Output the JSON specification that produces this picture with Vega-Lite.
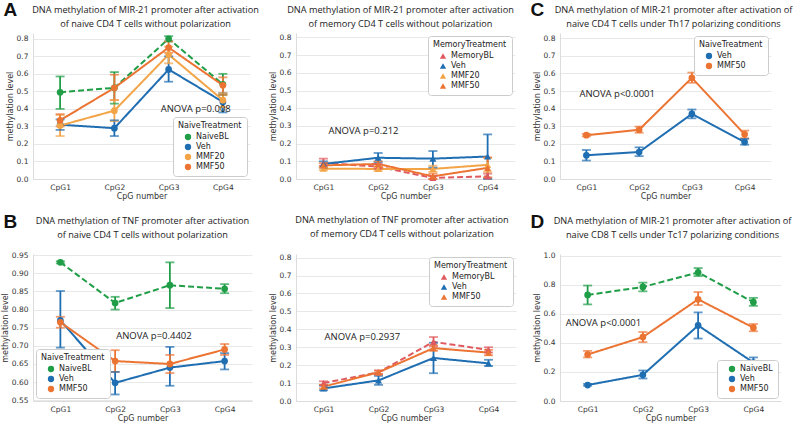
{
  "$schema": "https://vega.github.io/schema/vega-lite/v6.json",
  "padding": {"left": 1, "top": 0, "right": 0, "bottom": 0},
  "background": "white",
  "config": {
    "view": {"stroke": null},
    "font": "DejaVu Sans",
    "axis": {"grid": true, "gridColor": "#e8e8e8", "domainColor": "#dcdcdc", "ticks": false, "labelFont": "DejaVu Sans", "labelFontSize": 7.5, "labelColor": "#333333", "titleFont": "DejaVu Sans", "titleFontSize": 8, "titleFontWeight": "normal", "titleColor": "#333333", "labelPadding": 5, "labelOverlap": false},
    "axisX": {"grid": false, "labelAngle": 0, "titlePadding": 2, "labelPadding": 4},
    "axisY": {"titlePadding": 2},
    "title": {"font": "Open Sans", "fontSize": 9.2, "fontWeight": "normal", "color": "#222222", "anchor": "middle", "lineHeight": 14},
    "legend": {"fillColor": "white", "strokeColor": "#cccccc", "padding": 5, "cornerRadius": 3, "titleFont": "DejaVu Sans", "titleFontSize": 8, "titleFontWeight": "normal", "titleColor": "#222222", "labelFont": "DejaVu Sans", "labelFontSize": 8, "labelColor": "#222222", "symbolSize": 40, "rowPadding": 2, "offset": 3, "titlePadding": 3, "symbolOffset": 6}
  },
  "datasets": {
    "A": [
      {"cpg": "CpG1", "g": "NaiveBL", "m": 0.495, "lo": 0.40, "hi": 0.585},
      {"cpg": "CpG2", "g": "NaiveBL", "m": 0.52, "lo": 0.43, "hi": 0.61},
      {"cpg": "CpG3", "g": "NaiveBL", "m": 0.80, "lo": 0.785, "hi": 0.815},
      {"cpg": "CpG4", "g": "NaiveBL", "m": 0.54, "lo": 0.48, "hi": 0.60},
      {"cpg": "CpG1", "g": "Veh", "m": 0.31, "lo": 0.28, "hi": 0.34},
      {"cpg": "CpG2", "g": "Veh", "m": 0.29, "lo": 0.245, "hi": 0.335},
      {"cpg": "CpG3", "g": "Veh", "m": 0.625, "lo": 0.555, "hi": 0.70},
      {"cpg": "CpG4", "g": "Veh", "m": 0.44, "lo": 0.38, "hi": 0.49},
      {"cpg": "CpG1", "g": "MMF20", "m": 0.305, "lo": 0.245, "hi": 0.365},
      {"cpg": "CpG2", "g": "MMF20", "m": 0.39, "lo": 0.33, "hi": 0.45},
      {"cpg": "CpG3", "g": "MMF20", "m": 0.71, "lo": 0.66, "hi": 0.755},
      {"cpg": "CpG4", "g": "MMF20", "m": 0.45, "lo": 0.41, "hi": 0.49},
      {"cpg": "CpG1", "g": "MMF50", "m": 0.335, "lo": 0.30, "hi": 0.37},
      {"cpg": "CpG2", "g": "MMF50", "m": 0.52, "lo": 0.45, "hi": 0.595},
      {"cpg": "CpG3", "g": "MMF50", "m": 0.75, "lo": 0.72, "hi": 0.785},
      {"cpg": "CpG4", "g": "MMF50", "m": 0.535, "lo": 0.48, "hi": 0.58}
    ],
    "M1": [
      {"cpg": "CpG1", "g": "MemoryBL", "m": 0.09, "lo": 0.075, "hi": 0.115},
      {"cpg": "CpG2", "g": "MemoryBL", "m": 0.07, "lo": 0.06, "hi": 0.085},
      {"cpg": "CpG3", "g": "MemoryBL", "m": 0.006, "lo": 0.0, "hi": 0.015},
      {"cpg": "CpG4", "g": "MemoryBL", "m": 0.015, "lo": 0.005, "hi": 0.03},
      {"cpg": "CpG1", "g": "Veh", "m": 0.085, "lo": 0.065, "hi": 0.10},
      {"cpg": "CpG2", "g": "Veh", "m": 0.12, "lo": 0.095, "hi": 0.147},
      {"cpg": "CpG3", "g": "Veh", "m": 0.115, "lo": 0.065, "hi": 0.158},
      {"cpg": "CpG4", "g": "Veh", "m": 0.127, "lo": 0.0, "hi": 0.252},
      {"cpg": "CpG1", "g": "MMF20", "m": 0.058, "lo": 0.05, "hi": 0.068},
      {"cpg": "CpG2", "g": "MMF20", "m": 0.057, "lo": 0.045, "hi": 0.07},
      {"cpg": "CpG3", "g": "MMF20", "m": 0.057, "lo": 0.04, "hi": 0.075},
      {"cpg": "CpG4", "g": "MMF20", "m": 0.08, "lo": 0.04, "hi": 0.12},
      {"cpg": "CpG1", "g": "MMF50", "m": 0.077, "lo": 0.065, "hi": 0.09},
      {"cpg": "CpG2", "g": "MMF50", "m": 0.085, "lo": 0.07, "hi": 0.10},
      {"cpg": "CpG3", "g": "MMF50", "m": 0.015, "lo": 0.0, "hi": 0.03},
      {"cpg": "CpG4", "g": "MMF50", "m": 0.063, "lo": 0.01, "hi": 0.122}
    ],
    "C": [
      {"cpg": "CpG1", "g": "Veh", "m": 0.135, "lo": 0.105, "hi": 0.165},
      {"cpg": "CpG2", "g": "Veh", "m": 0.153, "lo": 0.13, "hi": 0.18},
      {"cpg": "CpG3", "g": "Veh", "m": 0.37, "lo": 0.345, "hi": 0.395},
      {"cpg": "CpG4", "g": "Veh", "m": 0.21, "lo": 0.195, "hi": 0.228},
      {"cpg": "CpG1", "g": "MMF50", "m": 0.249, "lo": 0.242, "hi": 0.256},
      {"cpg": "CpG2", "g": "MMF50", "m": 0.28, "lo": 0.263, "hi": 0.298},
      {"cpg": "CpG3", "g": "MMF50", "m": 0.575, "lo": 0.547, "hi": 0.605},
      {"cpg": "CpG4", "g": "MMF50", "m": 0.254, "lo": 0.232, "hi": 0.275}
    ],
    "B": [
      {"cpg": "CpG1", "g": "NaiveBL", "m": 0.93, "lo": 0.927, "hi": 0.933},
      {"cpg": "CpG2", "g": "NaiveBL", "m": 0.818, "lo": 0.80, "hi": 0.835},
      {"cpg": "CpG3", "g": "NaiveBL", "m": 0.867, "lo": 0.804, "hi": 0.93},
      {"cpg": "CpG4", "g": "NaiveBL", "m": 0.857, "lo": 0.845, "hi": 0.87},
      {"cpg": "CpG1", "g": "Veh", "m": 0.77, "lo": 0.695, "hi": 0.851},
      {"cpg": "CpG2", "g": "Veh", "m": 0.598, "lo": 0.566, "hi": 0.628},
      {"cpg": "CpG3", "g": "Veh", "m": 0.64, "lo": 0.59, "hi": 0.697},
      {"cpg": "CpG4", "g": "Veh", "m": 0.658, "lo": 0.635, "hi": 0.68},
      {"cpg": "CpG1", "g": "MMF50", "m": 0.765, "lo": 0.75, "hi": 0.78},
      {"cpg": "CpG2", "g": "MMF50", "m": 0.658, "lo": 0.628, "hi": 0.688},
      {"cpg": "CpG3", "g": "MMF50", "m": 0.65, "lo": 0.625, "hi": 0.675},
      {"cpg": "CpG4", "g": "MMF50", "m": 0.69, "lo": 0.675, "hi": 0.705}
    ],
    "M2": [
      {"cpg": "CpG1", "g": "MemoryBL", "m": 0.10, "lo": 0.09, "hi": 0.11},
      {"cpg": "CpG2", "g": "MemoryBL", "m": 0.16, "lo": 0.15, "hi": 0.17},
      {"cpg": "CpG3", "g": "MemoryBL", "m": 0.33, "lo": 0.305, "hi": 0.357},
      {"cpg": "CpG4", "g": "MemoryBL", "m": 0.285, "lo": 0.27, "hi": 0.30},
      {"cpg": "CpG1", "g": "Veh", "m": 0.07, "lo": 0.06, "hi": 0.085},
      {"cpg": "CpG2", "g": "Veh", "m": 0.115, "lo": 0.09, "hi": 0.14},
      {"cpg": "CpG3", "g": "Veh", "m": 0.24, "lo": 0.155, "hi": 0.325},
      {"cpg": "CpG4", "g": "Veh", "m": 0.21, "lo": 0.195, "hi": 0.23},
      {"cpg": "CpG1", "g": "MMF50", "m": 0.08, "lo": 0.07, "hi": 0.09},
      {"cpg": "CpG2", "g": "MMF50", "m": 0.16, "lo": 0.15, "hi": 0.17},
      {"cpg": "CpG3", "g": "MMF50", "m": 0.295, "lo": 0.28, "hi": 0.31},
      {"cpg": "CpG4", "g": "MMF50", "m": 0.27, "lo": 0.255, "hi": 0.285}
    ],
    "D": [
      {"cpg": "CpG1", "g": "NaiveBL", "m": 0.73, "lo": 0.665, "hi": 0.795},
      {"cpg": "CpG2", "g": "NaiveBL", "m": 0.785, "lo": 0.755, "hi": 0.815},
      {"cpg": "CpG3", "g": "NaiveBL", "m": 0.885, "lo": 0.86, "hi": 0.915},
      {"cpg": "CpG4", "g": "NaiveBL", "m": 0.68, "lo": 0.655, "hi": 0.71},
      {"cpg": "CpG1", "g": "Veh", "m": 0.11, "lo": 0.105, "hi": 0.118},
      {"cpg": "CpG2", "g": "Veh", "m": 0.18, "lo": 0.155, "hi": 0.21},
      {"cpg": "CpG3", "g": "Veh", "m": 0.52, "lo": 0.43, "hi": 0.61},
      {"cpg": "CpG4", "g": "Veh", "m": 0.265, "lo": 0.235, "hi": 0.30},
      {"cpg": "CpG1", "g": "MMF50", "m": 0.32, "lo": 0.30, "hi": 0.345},
      {"cpg": "CpG2", "g": "MMF50", "m": 0.44, "lo": 0.405, "hi": 0.475},
      {"cpg": "CpG3", "g": "MMF50", "m": 0.70, "lo": 0.66, "hi": 0.75},
      {"cpg": "CpG4", "g": "MMF50", "m": 0.505, "lo": 0.48, "hi": 0.53}
    ]
  },
  "resolve": {"scale": {"x": "independent", "y": "independent", "color": "independent", "fill": "independent", "strokeDash": "independent"}, "legend": {"color": "independent", "fill": "independent", "strokeDash": "independent"}},
  "bounds": "flush",
  "columns": 3,
  "spacing": {"row": 75, "column": 44},
  "concat": [
    {
      "width": 217, "height": 146,
      "title": {"text": ["DNA methylation of MIR-21 promoter after activation", "of naive CD4 T cells without polarization"], "offset": 4, "dy": 33, "dx": 4},
      "data": {"name": "A"},
      "resolve": {"axis": {"x": "independent"}},
      "layer": [
        {
          "encoding": {"x": {"field": "cpg", "type": "ordinal", "scale": {"type": "point", "padding": 0.5, "domain": ["CpG1", "CpG2", "CpG3", "CpG4"]}, "title": "CpG number"}},
          "layer": [
            {"mark": {"type": "line", "strokeWidth": 2}, "encoding": {"y": {"field": "m", "type": "quantitative", "scale": {"domain": [0, 0.833], "nice": false, "zero": false}, "axis": {"values": [0, 0.1, 0.2, 0.3, 0.4, 0.5, 0.6, 0.7, 0.8], "tickCount": 20, "format": ".1f", "labelOverlap": false}, "title": "methylation level"}, "color": {"field": "g", "type": "nominal", "sort": ["NaiveBL", "Veh", "MMF20", "MMF50"], "scale": {"range": ["#1f9e47", "#1f6eb2", "#f3a447", "#ec7433"]}, "legend": null}, "strokeDash": {"field": "g", "type": "nominal", "sort": ["NaiveBL", "Veh", "MMF20", "MMF50"], "scale": {"range": [[6, 3], [1, 0], [1, 0], [1, 0]]}, "legend": null}}},
            {"mark": {"type": "rule", "strokeWidth": 1.8}, "encoding": {"y": {"field": "lo", "type": "quantitative", "scale": {"domain": [0, 0.833], "nice": false, "zero": false}, "title": "methylation level"}, "y2": {"field": "hi"}, "color": {"field": "g", "type": "nominal", "sort": ["NaiveBL", "Veh", "MMF20", "MMF50"], "legend": null}}},
            {"mark": {"type": "tick", "thickness": 1.8, "size": 9}, "encoding": {"y": {"field": "lo", "type": "quantitative", "scale": {"domain": [0, 0.833], "nice": false, "zero": false}, "title": "methylation level"}, "color": {"field": "g", "type": "nominal", "sort": ["NaiveBL", "Veh", "MMF20", "MMF50"], "legend": null}}},
            {"mark": {"type": "tick", "thickness": 1.8, "size": 9}, "encoding": {"y": {"field": "hi", "type": "quantitative", "scale": {"domain": [0, 0.833], "nice": false, "zero": false}, "title": "methylation level"}, "color": {"field": "g", "type": "nominal", "sort": ["NaiveBL", "Veh", "MMF20", "MMF50"], "legend": null}}},
            {"mark": {"type": "point", "filled": true, "size": 45, "opacity": 1, "shape": "circle"}, "encoding": {"y": {"field": "m", "type": "quantitative", "scale": {"domain": [0, 0.833], "nice": false, "zero": false}, "title": "methylation level"}, "fill": {"field": "g", "type": "nominal", "scale": {"domain": ["NaiveBL", "Veh", "MMF20", "MMF50"], "range": ["#1f9e47", "#1f6eb2", "#f3a447", "#ec7433"]}, "legend": {"orient": "bottom-right", "title": "NaiveTreatment", "symbolType": "circle"}}}},
            {"data": {"values": [{"cpg": "CpG3", "m": 0.40, "t": "ANOVA p=0.008"}]}, "mark": {"type": "text", "align": "left", "dx": -8, "fontSize": 9.5, "font": "Open Sans", "color": "#222222"}, "encoding": {"y": {"field": "m", "type": "quantitative", "scale": {"domain": [0, 0.833], "nice": false, "zero": false}, "title": "methylation level"}, "text": {"field": "t"}}}
          ]
        },
        {"data": {"values": [{"cpg": "CpG1"}]}, "mark": {"type": "point", "opacity": 0}, "encoding": {"x": {"field": "cpg", "type": "ordinal", "scale": {"type": "point", "padding": 0.5, "domain": ["CpG1", "CpG2", "CpG3", "CpG4"]}, "axis": {"orient": "top", "labels": false, "domain": false, "grid": false, "ticks": false, "title": "A", "titleX": -30, "titleY": -33, "titleAlign": "left", "titleBaseline": "top", "titleAngle": 0, "titleFont": "Liberation Sans", "titleFontSize": 19, "titleFontWeight": "bold", "titleColor": "#111111"}}}}
      ]
    },
    {
      "width": 219, "height": 146,
      "title": {"text": ["DNA methylation of MIR-21 promoter after activation", "of memory CD4 T cells without polarization"], "offset": 4, "dx": -5},
      "data": {"name": "M1"},
      "encoding": {"x": {"field": "cpg", "type": "ordinal", "scale": {"type": "point", "padding": 0.5, "domain": ["CpG1", "CpG2", "CpG3", "CpG4"]}, "title": "CpG number"}},
      "layer": [
        {"mark": {"type": "line", "strokeWidth": 2}, "encoding": {"y": {"field": "m", "type": "quantitative", "scale": {"domain": [0, 0.825], "nice": false, "zero": false}, "axis": {"values": [0, 0.1, 0.2, 0.3, 0.4, 0.5, 0.6, 0.7, 0.8], "tickCount": 20, "format": ".1f", "labelOverlap": false}, "title": "methylation level"}, "color": {"field": "g", "type": "nominal", "sort": ["MemoryBL", "Veh", "MMF20", "MMF50"], "scale": {"range": ["#df5a5e", "#1f6eb2", "#f3a447", "#ec7433"]}, "legend": null}, "strokeDash": {"field": "g", "type": "nominal", "sort": ["MemoryBL", "Veh", "MMF20", "MMF50"], "scale": {"range": [[6, 3], [1, 0], [1, 0], [1, 0]]}, "legend": null}}},
        {"mark": {"type": "rule", "strokeWidth": 1.8}, "encoding": {"y": {"field": "lo", "type": "quantitative", "scale": {"domain": [0, 0.825], "nice": false, "zero": false}, "title": "methylation level"}, "y2": {"field": "hi"}, "color": {"field": "g", "type": "nominal", "sort": ["MemoryBL", "Veh", "MMF20", "MMF50"], "legend": null}}},
        {"mark": {"type": "tick", "thickness": 1.8, "size": 9}, "encoding": {"y": {"field": "lo", "type": "quantitative", "scale": {"domain": [0, 0.825], "nice": false, "zero": false}, "title": "methylation level"}, "color": {"field": "g", "type": "nominal", "sort": ["MemoryBL", "Veh", "MMF20", "MMF50"], "legend": null}}},
        {"mark": {"type": "tick", "thickness": 1.8, "size": 9}, "encoding": {"y": {"field": "hi", "type": "quantitative", "scale": {"domain": [0, 0.825], "nice": false, "zero": false}, "title": "methylation level"}, "color": {"field": "g", "type": "nominal", "sort": ["MemoryBL", "Veh", "MMF20", "MMF50"], "legend": null}}},
        {"mark": {"type": "point", "filled": true, "size": 50, "opacity": 1, "shape": "triangle-up"}, "encoding": {"y": {"field": "m", "type": "quantitative", "scale": {"domain": [0, 0.825], "nice": false, "zero": false}, "title": "methylation level"}, "fill": {"field": "g", "type": "nominal", "scale": {"domain": ["MemoryBL", "Veh", "MMF20", "MMF50"], "range": ["#df5a5e", "#1f6eb2", "#f3a447", "#ec7433"]}, "legend": {"orient": "top-right", "title": "MemoryTreatment", "symbolType": "triangle-up"}}}},
        {"data": {"values": [{"cpg": "CpG1", "m": 0.273, "t": "ANOVA p=0.212"}]}, "mark": {"type": "text", "align": "left", "dx": 5, "fontSize": 9.5, "font": "Open Sans", "color": "#222222"}, "encoding": {"y": {"field": "m", "type": "quantitative", "scale": {"domain": [0, 0.825], "nice": false, "zero": false}, "title": "methylation level"}, "text": {"field": "t"}}}
      ]
    },
    {
      "width": 211, "height": 146,
      "title": {"text": ["DNA methylation of MIR-21 promoter after activation of", "naive CD4 T cells under Th17 polarizing conditions"], "offset": 4, "dy": 33, "dx": 8},
      "data": {"name": "C"},
      "resolve": {"axis": {"x": "independent"}},
      "layer": [
        {
          "encoding": {"x": {"field": "cpg", "type": "ordinal", "scale": {"type": "point", "padding": 0.5, "domain": ["CpG1", "CpG2", "CpG3", "CpG4"]}, "title": "CpG number"}},
          "layer": [
            {"mark": {"type": "line", "strokeWidth": 2}, "encoding": {"y": {"field": "m", "type": "quantitative", "scale": {"domain": [0, 0.83], "nice": false, "zero": false}, "axis": {"values": [0, 0.1, 0.2, 0.3, 0.4, 0.5, 0.6, 0.7, 0.8], "tickCount": 20, "format": ".1f", "labelOverlap": false}, "title": "methylation level"}, "color": {"field": "g", "type": "nominal", "sort": ["Veh", "MMF50"], "scale": {"range": ["#1f6eb2", "#ec7433"]}, "legend": null}}},
            {"mark": {"type": "rule", "strokeWidth": 1.8}, "encoding": {"y": {"field": "lo", "type": "quantitative", "scale": {"domain": [0, 0.83], "nice": false, "zero": false}, "title": "methylation level"}, "y2": {"field": "hi"}, "color": {"field": "g", "type": "nominal", "sort": ["Veh", "MMF50"], "legend": null}}},
            {"mark": {"type": "tick", "thickness": 1.8, "size": 9}, "encoding": {"y": {"field": "lo", "type": "quantitative", "scale": {"domain": [0, 0.83], "nice": false, "zero": false}, "title": "methylation level"}, "color": {"field": "g", "type": "nominal", "sort": ["Veh", "MMF50"], "legend": null}}},
            {"mark": {"type": "tick", "thickness": 1.8, "size": 9}, "encoding": {"y": {"field": "hi", "type": "quantitative", "scale": {"domain": [0, 0.83], "nice": false, "zero": false}, "title": "methylation level"}, "color": {"field": "g", "type": "nominal", "sort": ["Veh", "MMF50"], "legend": null}}},
            {"mark": {"type": "point", "filled": true, "size": 45, "opacity": 1, "shape": "circle"}, "encoding": {"y": {"field": "m", "type": "quantitative", "scale": {"domain": [0, 0.83], "nice": false, "zero": false}, "title": "methylation level"}, "fill": {"field": "g", "type": "nominal", "scale": {"domain": ["Veh", "MMF50"], "range": ["#1f6eb2", "#ec7433"]}, "legend": {"orient": "top-right", "title": "NaiveTreatment", "symbolType": "circle"}}}},
            {"data": {"values": [{"cpg": "CpG1", "m": 0.486, "t": "ANOVA p<0.0001"}]}, "mark": {"type": "text", "align": "left", "dx": -7, "fontSize": 9.5, "font": "Open Sans", "color": "#222222"}, "encoding": {"y": {"field": "m", "type": "quantitative", "scale": {"domain": [0, 0.83], "nice": false, "zero": false}, "title": "methylation level"}, "text": {"field": "t"}}}
          ]
        },
        {"data": {"values": [{"cpg": "CpG1"}]}, "mark": {"type": "point", "opacity": 0}, "encoding": {"x": {"field": "cpg", "type": "ordinal", "scale": {"type": "point", "padding": 0.5, "domain": ["CpG1", "CpG2", "CpG3", "CpG4"]}, "axis": {"orient": "top", "labels": false, "domain": false, "grid": false, "ticks": false, "title": "C", "titleX": -30, "titleY": -33, "titleAlign": "left", "titleBaseline": "top", "titleAngle": 0, "titleFont": "Liberation Sans", "titleFontSize": 19, "titleFontWeight": "bold", "titleColor": "#111111"}}}}
      ]
    },
    {
      "width": 219, "height": 147,
      "title": {"text": ["DNA methylation of TNF promoter after activation", "of naive CD4 T cells without polarization"], "offset": 14, "dy": 42},
      "data": {"name": "B"},
      "resolve": {"axis": {"x": "independent"}},
      "layer": [
        {
          "encoding": {"x": {"field": "cpg", "type": "ordinal", "scale": {"type": "point", "padding": 0.5, "domain": ["CpG1", "CpG2", "CpG3", "CpG4"]}, "title": "CpG number"}},
          "layer": [
            {"mark": {"type": "line", "strokeWidth": 2}, "encoding": {"y": {"field": "m", "type": "quantitative", "scale": {"domain": [0.548, 0.953], "nice": false, "zero": false}, "axis": {"values": [0.55, 0.6, 0.65, 0.7, 0.75, 0.8, 0.85, 0.9, 0.95], "tickCount": 20, "format": ".2f", "labelOverlap": false}, "title": "methylation level"}, "color": {"field": "g", "type": "nominal", "sort": ["NaiveBL", "Veh", "MMF50"], "scale": {"range": ["#1f9e47", "#1f6eb2", "#ec7433"]}, "legend": null}, "strokeDash": {"field": "g", "type": "nominal", "sort": ["NaiveBL", "Veh", "MMF50"], "scale": {"range": [[6, 3], [1, 0], [1, 0]]}, "legend": null}}},
            {"mark": {"type": "rule", "strokeWidth": 1.8}, "encoding": {"y": {"field": "lo", "type": "quantitative", "scale": {"domain": [0.548, 0.953], "nice": false, "zero": false}, "title": "methylation level"}, "y2": {"field": "hi"}, "color": {"field": "g", "type": "nominal", "sort": ["NaiveBL", "Veh", "MMF50"], "legend": null}}},
            {"mark": {"type": "tick", "thickness": 1.8, "size": 9}, "encoding": {"y": {"field": "lo", "type": "quantitative", "scale": {"domain": [0.548, 0.953], "nice": false, "zero": false}, "title": "methylation level"}, "color": {"field": "g", "type": "nominal", "sort": ["NaiveBL", "Veh", "MMF50"], "legend": null}}},
            {"mark": {"type": "tick", "thickness": 1.8, "size": 9}, "encoding": {"y": {"field": "hi", "type": "quantitative", "scale": {"domain": [0.548, 0.953], "nice": false, "zero": false}, "title": "methylation level"}, "color": {"field": "g", "type": "nominal", "sort": ["NaiveBL", "Veh", "MMF50"], "legend": null}}},
            {"mark": {"type": "point", "filled": true, "size": 45, "opacity": 1, "shape": "circle"}, "encoding": {"y": {"field": "m", "type": "quantitative", "scale": {"domain": [0.548, 0.953], "nice": false, "zero": false}, "title": "methylation level"}, "fill": {"field": "g", "type": "nominal", "scale": {"domain": ["NaiveBL", "Veh", "MMF50"], "range": ["#1f9e47", "#1f6eb2", "#ec7433"]}, "legend": {"orient": "bottom-left", "title": "NaiveTreatment", "symbolType": "circle"}}}},
            {"data": {"values": [{"cpg": "CpG2", "m": 0.727, "t": "ANOVA p=0.4402"}]}, "mark": {"type": "text", "align": "left", "dx": 1, "fontSize": 9.5, "font": "Open Sans", "color": "#222222"}, "encoding": {"y": {"field": "m", "type": "quantitative", "scale": {"domain": [0.548, 0.953], "nice": false, "zero": false}, "title": "methylation level"}, "text": {"field": "t"}}}
          ]
        },
        {"data": {"values": [{"cpg": "CpG1"}]}, "mark": {"type": "point", "opacity": 0}, "encoding": {"x": {"field": "cpg", "type": "ordinal", "scale": {"type": "point", "padding": 0.5, "domain": ["CpG1", "CpG2", "CpG3", "CpG4"]}, "axis": {"orient": "top", "labels": false, "domain": false, "grid": false, "ticks": false, "title": "B", "titleX": -30, "titleY": -42, "titleAlign": "left", "titleBaseline": "top", "titleAngle": 0, "titleFont": "Liberation Sans", "titleFontSize": 19, "titleFontWeight": "bold", "titleColor": "#111111"}}}}
      ]
    },
    {
      "width": 220, "height": 147,
      "title": {"text": ["DNA methylation of TNF promoter after activation", "of memory CD4 T cells without polarization"], "offset": 14, "dx": -4},
      "data": {"name": "M2"},
      "encoding": {"x": {"field": "cpg", "type": "ordinal", "scale": {"type": "point", "padding": 0.5, "domain": ["CpG1", "CpG2", "CpG3", "CpG4"]}, "title": "CpG number"}},
      "layer": [
        {"mark": {"type": "line", "strokeWidth": 2}, "encoding": {"y": {"field": "m", "type": "quantitative", "scale": {"domain": [0, 0.82], "nice": false, "zero": false}, "axis": {"values": [0, 0.1, 0.2, 0.3, 0.4, 0.5, 0.6, 0.7, 0.8], "tickCount": 20, "format": ".1f", "labelOverlap": false}, "title": "methylation level"}, "color": {"field": "g", "type": "nominal", "sort": ["MemoryBL", "Veh", "MMF50"], "scale": {"range": ["#df5a5e", "#1f6eb2", "#ec7433"]}, "legend": null}, "strokeDash": {"field": "g", "type": "nominal", "sort": ["MemoryBL", "Veh", "MMF50"], "scale": {"range": [[6, 3], [1, 0], [1, 0]]}, "legend": null}}},
        {"mark": {"type": "rule", "strokeWidth": 1.8}, "encoding": {"y": {"field": "lo", "type": "quantitative", "scale": {"domain": [0, 0.82], "nice": false, "zero": false}, "title": "methylation level"}, "y2": {"field": "hi"}, "color": {"field": "g", "type": "nominal", "sort": ["MemoryBL", "Veh", "MMF50"], "legend": null}}},
        {"mark": {"type": "tick", "thickness": 1.8, "size": 9}, "encoding": {"y": {"field": "lo", "type": "quantitative", "scale": {"domain": [0, 0.82], "nice": false, "zero": false}, "title": "methylation level"}, "color": {"field": "g", "type": "nominal", "sort": ["MemoryBL", "Veh", "MMF50"], "legend": null}}},
        {"mark": {"type": "tick", "thickness": 1.8, "size": 9}, "encoding": {"y": {"field": "hi", "type": "quantitative", "scale": {"domain": [0, 0.82], "nice": false, "zero": false}, "title": "methylation level"}, "color": {"field": "g", "type": "nominal", "sort": ["MemoryBL", "Veh", "MMF50"], "legend": null}}},
        {"mark": {"type": "point", "filled": true, "size": 50, "opacity": 1, "shape": "triangle-up"}, "encoding": {"y": {"field": "m", "type": "quantitative", "scale": {"domain": [0, 0.82], "nice": false, "zero": false}, "title": "methylation level"}, "fill": {"field": "g", "type": "nominal", "scale": {"domain": ["MemoryBL", "Veh", "MMF50"], "range": ["#df5a5e", "#1f6eb2", "#ec7433"]}, "legend": {"orient": "top-right", "title": "MemoryTreatment", "symbolType": "triangle-up"}}}},
        {"data": {"values": [{"cpg": "CpG1", "m": 0.357, "t": "ANOVA p=0.2937"}]}, "mark": {"type": "text", "align": "left", "dx": 1, "fontSize": 9.5, "font": "Open Sans", "color": "#222222"}, "encoding": {"y": {"field": "m", "type": "quantitative", "scale": {"domain": [0, 0.82], "nice": false, "zero": false}, "title": "methylation level"}, "text": {"field": "t"}}}
      ]
    },
    {
      "width": 221, "height": 147,
      "title": {"text": ["DNA methylation of MIR-21 promoter after activation of", "naive CD8 T cells under Tc17 polarizing conditions"], "offset": 14, "dy": 42, "dx": 2},
      "data": {"name": "D"},
      "resolve": {"axis": {"x": "independent"}},
      "layer": [
        {
          "encoding": {"x": {"field": "cpg", "type": "ordinal", "scale": {"type": "point", "padding": 0.5, "domain": ["CpG1", "CpG2", "CpG3", "CpG4"]}, "title": "CpG number"}},
          "layer": [
            {"mark": {"type": "line", "strokeWidth": 2}, "encoding": {"y": {"field": "m", "type": "quantitative", "scale": {"domain": [0, 1.012], "nice": false, "zero": false}, "axis": {"values": [0, 0.2, 0.4, 0.6, 0.8, 1.0], "tickCount": 20, "format": ".1f", "labelOverlap": false}, "title": "methylation level"}, "color": {"field": "g", "type": "nominal", "sort": ["NaiveBL", "Veh", "MMF50"], "scale": {"range": ["#1f9e47", "#1f6eb2", "#ec7433"]}, "legend": null}, "strokeDash": {"field": "g", "type": "nominal", "sort": ["NaiveBL", "Veh", "MMF50"], "scale": {"range": [[6, 3], [1, 0], [1, 0]]}, "legend": null}}},
            {"mark": {"type": "rule", "strokeWidth": 1.8}, "encoding": {"y": {"field": "lo", "type": "quantitative", "scale": {"domain": [0, 1.012], "nice": false, "zero": false}, "title": "methylation level"}, "y2": {"field": "hi"}, "color": {"field": "g", "type": "nominal", "sort": ["NaiveBL", "Veh", "MMF50"], "legend": null}}},
            {"mark": {"type": "tick", "thickness": 1.8, "size": 9}, "encoding": {"y": {"field": "lo", "type": "quantitative", "scale": {"domain": [0, 1.012], "nice": false, "zero": false}, "title": "methylation level"}, "color": {"field": "g", "type": "nominal", "sort": ["NaiveBL", "Veh", "MMF50"], "legend": null}}},
            {"mark": {"type": "tick", "thickness": 1.8, "size": 9}, "encoding": {"y": {"field": "hi", "type": "quantitative", "scale": {"domain": [0, 1.012], "nice": false, "zero": false}, "title": "methylation level"}, "color": {"field": "g", "type": "nominal", "sort": ["NaiveBL", "Veh", "MMF50"], "legend": null}}},
            {"mark": {"type": "point", "filled": true, "size": 45, "opacity": 1, "shape": "circle"}, "encoding": {"y": {"field": "m", "type": "quantitative", "scale": {"domain": [0, 1.012], "nice": false, "zero": false}, "title": "methylation level"}, "fill": {"field": "g", "type": "nominal", "scale": {"domain": ["NaiveBL", "Veh", "MMF50"], "range": ["#1f9e47", "#1f6eb2", "#ec7433"]}, "legend": {"orient": "bottom-right", "title": null, "symbolType": "circle"}}}},
            {"data": {"values": [{"cpg": "CpG1", "m": 0.537, "t": "ANOVA p<0.0001"}]}, "mark": {"type": "text", "align": "left", "dx": -22, "fontSize": 9.5, "font": "Open Sans", "color": "#222222"}, "encoding": {"y": {"field": "m", "type": "quantitative", "scale": {"domain": [0, 1.012], "nice": false, "zero": false}, "title": "methylation level"}, "text": {"field": "t"}}}
          ]
        },
        {"data": {"values": [{"cpg": "CpG1"}]}, "mark": {"type": "point", "opacity": 0}, "encoding": {"x": {"field": "cpg", "type": "ordinal", "scale": {"type": "point", "padding": 0.5, "domain": ["CpG1", "CpG2", "CpG3", "CpG4"]}, "axis": {"orient": "top", "labels": false, "domain": false, "grid": false, "ticks": false, "title": "D", "titleX": -30, "titleY": -42, "titleAlign": "left", "titleBaseline": "top", "titleAngle": 0, "titleFont": "Liberation Sans", "titleFontSize": 19, "titleFontWeight": "bold", "titleColor": "#111111"}}}}
      ]
    }
  ]
}
